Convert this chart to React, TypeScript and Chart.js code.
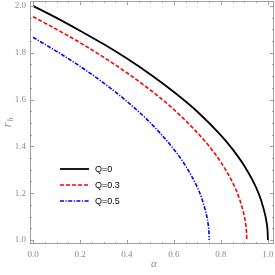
import React, { useEffect, useRef } from "react";
import { Chart, registerables } from "chart.js";

Chart.register(...registerables);

const alphaQ0 = [0, 0.1, 0.2, 0.3, 0.4, 0.5, 0.6, 0.7, 0.8, 0.85, 0.9, 0.95, 0.97, 0.99, 0.995, 0.999, 1.0];
const rhQ0 = [2.0, 1.949, 1.894, 1.837, 1.775, 1.707, 1.632, 1.548, 1.447, 1.387, 1.316, 1.224, 1.173, 1.1, 1.071, 1.032, 1.0];

const alphaQ03 = [0, 0.1, 0.2, 0.3, 0.4, 0.5, 0.6, 0.7, 0.75, 0.8, 0.85, 0.88, 0.9, 0.905, 0.909, 0.91];
const rhQ03 = [1.954, 1.9, 1.843, 1.781, 1.714, 1.64, 1.557, 1.458, 1.4, 1.332, 1.245, 1.173, 1.1, 1.071, 1.032, 1.0];

const alphaQ05 = [0, 0.1, 0.2, 0.3, 0.4, 0.5, 0.6, 0.65, 0.7, 0.72, 0.74, 0.745, 0.749, 0.75];
const rhQ05 = [1.866, 1.806, 1.742, 1.671, 1.592, 1.5, 1.387, 1.316, 1.224, 1.173, 1.1, 1.071, 1.032, 1.0];

const xTicks = [0, 0.2, 0.4, 0.6, 0.8, 1.0];
const yTicks = [1.0, 1.2, 1.4, 1.6, 1.8, 2.0];
const legendLabels = ["Q=0", "Q=0.3", "Q=0.5"];
const colors = ["#000000", "#ff0000", "#0000ff"];
const dashes: number[][] = [[], [4, 2], [4, 1.5, 1.2, 1.5]];
const widths = [1.8, 1.6, 1.6];

const toPts = (xs: number[], ys: number[]) => xs.map((x, i) => ({ x, y: ys[i] }));

const framePlugin = {
  id: "frame",
  afterDraw(chart: any) {
    const { ctx, chartArea } = chart;
    const { left, right, top, bottom } = chartArea;
    const xs = chart.scales.x;
    const ys = chart.scales.y;
    ctx.save();
    ctx.strokeStyle = "#a0a0a0";
    ctx.lineWidth = 1;
    ctx.strokeRect(left + 0.5, top + 0.5, right - left - 1, bottom - top - 1);
    ctx.beginPath();
    for (let v = 0; v <= 1.0001; v += 0.05) {
      const major = Math.abs(v * 5 - Math.round(v * 5)) < 1e-6;
      const len = major ? 4 : 2;
      const px = Math.round(xs.getPixelForValue(v)) + 0.5;
      ctx.moveTo(px, bottom);
      ctx.lineTo(px, bottom - len);
      ctx.moveTo(px, top);
      ctx.lineTo(px, top + len);
    }
    for (let v = 1.0; v <= 2.0001; v += 0.05) {
      const major = Math.abs(v * 5 - Math.round(v * 5)) < 1e-6;
      const len = major ? 4 : 2;
      const py = Math.round(ys.getPixelForValue(v)) + 0.5;
      ctx.moveTo(left, py);
      ctx.lineTo(left + len, py);
      ctx.moveTo(right, py);
      ctx.lineTo(right - len, py);
    }
    ctx.stroke();

    ctx.fillStyle = "#8c8c8c";
    ctx.font = "9px 'Liberation Serif', serif";
    ctx.textAlign = "center";
    ctx.textBaseline = "top";
    xTicks.forEach((v) => {
      ctx.fillText(v.toFixed(1), xs.getPixelForValue(v), bottom + 6);
    });
    ctx.textAlign = "right";
    ctx.textBaseline = "middle";
    yTicks.forEach((v) => {
      ctx.fillText(v.toFixed(1), left - 4, ys.getPixelForValue(v));
    });

    ctx.font = "italic 11px 'Liberation Serif', serif";
    ctx.textAlign = "center";
    ctx.textBaseline = "middle";
    ctx.fillText("α", (left + right) / 2 + 2, 264);
    ctx.save();
    ctx.translate(8, 123);
    ctx.rotate(-Math.PI / 2);
    ctx.font = "italic 12px 'Liberation Serif', serif";
    ctx.fillText("r", -2, 0);
    ctx.font = "italic 8px 'Liberation Serif', serif";
    ctx.fillText("h", 3.5, 2.5);
    ctx.restore();

    const lx0 = 60, lx1 = 89;
    const lys = [169, 185, 201];
    legendLabels.forEach((lab, i) => {
      ctx.strokeStyle = colors[i];
      ctx.lineWidth = widths[i];
      ctx.setLineDash(dashes[i]);
      ctx.beginPath();
      ctx.moveTo(lx0, lys[i]);
      ctx.lineTo(lx1, lys[i]);
      ctx.stroke();
      ctx.setLineDash([]);
      ctx.fillStyle = "#000000";
      ctx.font = "9px 'Liberation Sans', Arial, sans-serif";
      ctx.textAlign = "left";
      ctx.textBaseline = "middle";
      ctx.fillText(lab, 95, lys[i] + 0.5);
    });
    ctx.restore();
  },
};

export default function App() {
  const ref = useRef<HTMLCanvasElement>(null);
  useEffect(() => {
    document.body.style.margin = "0";
    const series = [
      toPts(alphaQ0, rhQ0),
      toPts(alphaQ03, rhQ03),
      toPts(alphaQ05, rhQ05),
    ];
    const chart = new Chart(ref.current!, {
      type: "scatter",
      data: {
        datasets: series.map((d, i) => ({
          label: legendLabels[i],
          data: d,
          showLine: true,
          borderColor: colors[i],
          borderWidth: widths[i],
          borderDash: dashes[i],
          pointRadius: 0,
          cubicInterpolationMode: "monotone" as const,
        })),
      },
      options: {
        animation: false,
        responsive: false,
        layout: { padding: { left: 30, right: 1, top: 1, bottom: 31 } },
        plugins: { legend: { display: false }, tooltip: { enabled: false } },
        scales: {
          x: { type: "linear", display: false, min: -0.013, max: 1.026 },
          y: { type: "linear", display: false, min: 0.983, max: 2.021 },
        },
      },
      plugins: [framePlugin],
    });
    return () => chart.destroy();
  }, []);
  return (
    <div style={{ width: 275, height: 275 }}>
      <canvas ref={ref} width={275} height={275} style={{ display: "block" }} />
    </div>
  );
}
